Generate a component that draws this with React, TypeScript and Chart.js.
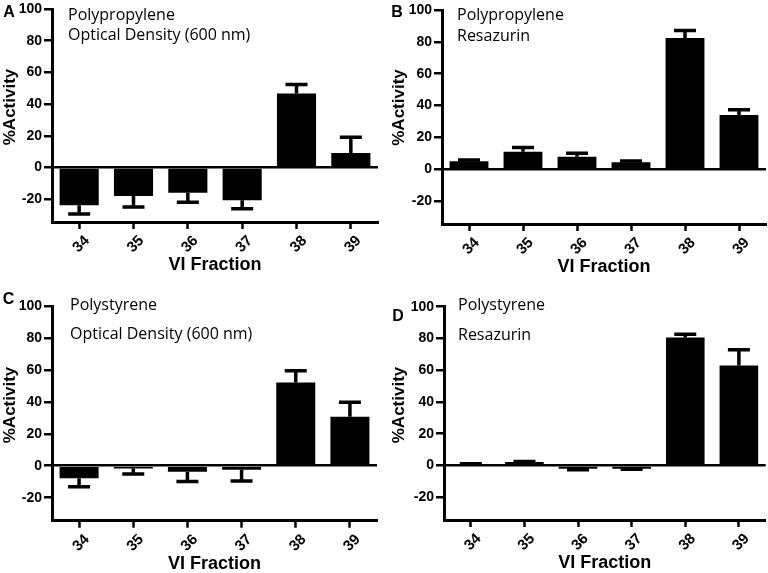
import { useEffect, useRef } from "react";
import { Chart, registerables } from "chart.js";

Chart.register(...registerables);

// x categories and y ticks shared by all four panels
const fractions = ["34", "35", "36", "37", "38", "39"];
const yTicks = [-20, 0, 20, 40, 60, 80, 100];

// A: polypropylene, optical density
const ppOdMeans = [-23.8, -18, -16, -20.6, 46.7, 9.2];
const ppOdSd = [5.6, 7, 6, 5.4, 5.6, 9.8];

// B: polypropylene, resazurin
const ppResMeans = [5, 11, 7.9, 4.4, 82.4, 34];
const ppResSd = [0.8, 2.6, 2.1, 0.8, 4.8, 3.3];

// C: polystyrene, optical density
const psOdMeans = [-7.9, -1.7, -3.7, -2.5, 52.1, 30.6];
const psOdSd = [5.2, 3.5, 6.1, 7.1, 7.3, 9.2];

// D: polystyrene, resazurin
const psResMeans = [0.6, 2.1, -2.1, -2.1, 80.6, 62.9];
const psResSd = [0.4, 0.4, 0.6, 0.4, 2.1, 10];

const W = 384;
const H = 290;
const X_AXIS_H = 58;
const SANS = "'Liberation Sans', Arial, sans-serif";
const LIGHT = "'Open Sans', sans-serif";

interface PanelProps {
    letter: string;
    lines: string[];
    means: number[];
    sd: number[];
    pos: { left: number; top: number };
    area: { l: number; r: number; t: number; b: number };
    letterAt: [number, number];
    textAt: { x: number; y: number[] };
    yTitleAt: [number, number];
}

function Panel(props: PanelProps) {
    const canvasRef = useRef<HTMLCanvasElement | null>(null);
    const chartRef = useRef<Chart | null>(null);

    useEffect(() => {
        if (!canvasRef.current) return;
        const ctx = canvasRef.current.getContext("2d");
        if (!ctx) return;
        if (chartRef.current) chartRef.current.destroy();

        const { area, means, sd } = props;

        const errorBars = {
            id: "errorBars",
            afterDatasetsDraw(chart: Chart) {
                const c = chart.ctx;
                const y = chart.scales.y;
                const meta = chart.getDatasetMeta(0);
                c.save();
                c.strokeStyle = "#000";
                c.lineWidth = 3.5;
                meta.data.forEach((bar: any, i: number) => {
                    const v = means[i];
                    const end = v >= 0 ? v + sd[i] : v - sd[i];
                    const y0 = y.getPixelForValue(v);
                    const y1 = y.getPixelForValue(end);
                    c.beginPath();
                    c.moveTo(bar.x, y0);
                    c.lineTo(bar.x, y1);
                    c.moveTo(bar.x - 11, y1);
                    c.lineTo(bar.x + 11, y1);
                    c.stroke();
                });
                c.restore();
            },
        };

        const labels = {
            id: "panelLabels",
            afterDraw(chart: Chart) {
                const c = chart.ctx;
                c.save();
                c.fillStyle = "#000";
                c.textBaseline = "middle";
                c.textAlign = "center";
                c.font = `bold 16px ${SANS}`;
                c.fillText(props.letter, props.letterAt[0], props.letterAt[1]);

                c.textAlign = "left";
                c.font = `16px ${LIGHT}`;
                props.lines.forEach((t, i) => c.fillText(t, props.textAt.x, props.textAt.y[i]));

                c.translate(props.yTitleAt[0], props.yTitleAt[1]);
                c.rotate(-Math.PI / 2);
                c.textAlign = "center";
                c.font = `bold 17px ${SANS}`;
                c.fillText("%Activity", 0, 0);
                c.restore();
            },
        };

        chartRef.current = new Chart(ctx, {
            type: "bar",
            data: {
                labels: fractions,
                datasets: [
                    {
                        data: means,
                        backgroundColor: "#000",
                        borderWidth: 0,
                        categoryPercentage: 0.72,
                        barPercentage: 1,
                    },
                ],
            },
            options: {
                animation: false,
                responsive: false,
                maintainAspectRatio: false,
                layout: {
                    padding: {
                        left: 0,
                        top: area.t,
                        right: W - area.r,
                        bottom: H - area.b - X_AXIS_H,
                    },
                },
                plugins: {
                    legend: { display: false },
                    tooltip: { enabled: false },
                },
                scales: {
                    x: {
                        offset: true,
                        grid: {
                            display: true,
                            drawOnChartArea: false,
                            offset: false,
                            tickColor: "#000",
                            tickLength: 7,
                            tickWidth: 2.5,
                        },
                        border: { color: "#000", width: 3 },
                        ticks: {
                            color: "#000",
                            font: { family: SANS, size: 15, weight: "bold" },
                            minRotation: 45,
                            maxRotation: 45,
                            autoSkip: false,
                            padding: 3,
                            labelOffset: 8,
                        },
                        title: {
                            display: true,
                            text: "VI Fraction",
                            color: "#000",
                            font: { family: SANS, size: 18, weight: "bold" },
                            padding: { top: 4, bottom: 4 },
                        },
                        afterFit: (s: any) => {
                            s.height = X_AXIS_H;
                        },
                    },
                    y: {
                        min: -34.4,
                        max: 100,
                        afterBuildTicks: (s: any) => {
                            s.ticks = yTicks.map((v) => ({ value: v }));
                        },
                        grid: {
                            color: (c: any) => (c.tick && c.tick.value === 0 ? "#000" : "rgba(0,0,0,0)"),
                            lineWidth: 2.5,
                            tickColor: "#000",
                            tickLength: 8,
                            tickWidth: 2.5,
                        },
                        border: { color: "#000", width: 3 },
                        ticks: {
                            color: "#000",
                            font: { family: SANS, size: 14, weight: "bold", lineHeight: 1 },
                            padding: 2,
                        },
                        afterFit: (s: any) => {
                            s.width = area.l;
                        },
                    },
                },
            },
            plugins: [errorBars, labels],
        } as any);

        return () => {
            if (chartRef.current) {
                chartRef.current.destroy();
                chartRef.current = null;
            }
        };
    }, [props]);

    return (
        <canvas
            ref={canvasRef}
            width={W}
            height={H}
            style={{ position: "absolute", left: props.pos.left, top: props.pos.top, width: W, height: H, display: "block" }}
        />
    );
}

const panelA: PanelProps = {
    letter: "A",
    lines: ["Polypropylene", "Optical Density (600 nm)"],
    means: ppOdMeans,
    sd: ppOdSd,
    pos: { left: 0, top: 0 },
    area: { l: 52, r: 378, t: 7, b: 222 },
    letterAt: [9, 12.5],
    textAt: { x: 68, y: [15, 35] },
    yTitleAt: [10, 107],
};

const panelB: PanelProps = {
    letter: "B",
    lines: ["Polypropylene", "Resazurin"],
    means: ppResMeans,
    sd: ppResSd,
    pos: { left: 384, top: 0 },
    area: { l: 58, r: 382, t: 10, b: 224 },
    letterAt: [13, 13],
    textAt: { x: 73, y: [15, 36] },
    yTitleAt: [15.5, 107.5],
};

const panelC: PanelProps = {
    letter: "C",
    lines: ["Polystyrene", "Optical Density (600 nm)"],
    means: psOdMeans,
    sd: psOdSd,
    pos: { left: 0, top: 290 },
    area: { l: 52, r: 377, t: 16, b: 230.7 },
    letterAt: [8.5, 10],
    textAt: { x: 70, y: [15, 44] },
    yTitleAt: [10, 115],
};

const panelD: PanelProps = {
    letter: "D",
    lines: ["Polystyrene", "Resazurin"],
    means: psResMeans,
    sd: psResSd,
    pos: { left: 384, top: 290 },
    area: { l: 60, r: 381.7, t: 16.7, b: 230 },
    letterAt: [14, 27],
    textAt: { x: 74, y: [15, 45] },
    yTitleAt: [15, 115],
};

export default function App() {
    return (
        <div
            style={{
                position: "absolute",
                left: 0,
                top: 0,
                width: 768,
                height: 573,
                overflow: "hidden",
                background: "#fff",
            }}
        >
            <Panel {...panelA} />
            <Panel {...panelB} />
            <Panel {...panelC} />
            <Panel {...panelD} />
        </div>
    );
}
